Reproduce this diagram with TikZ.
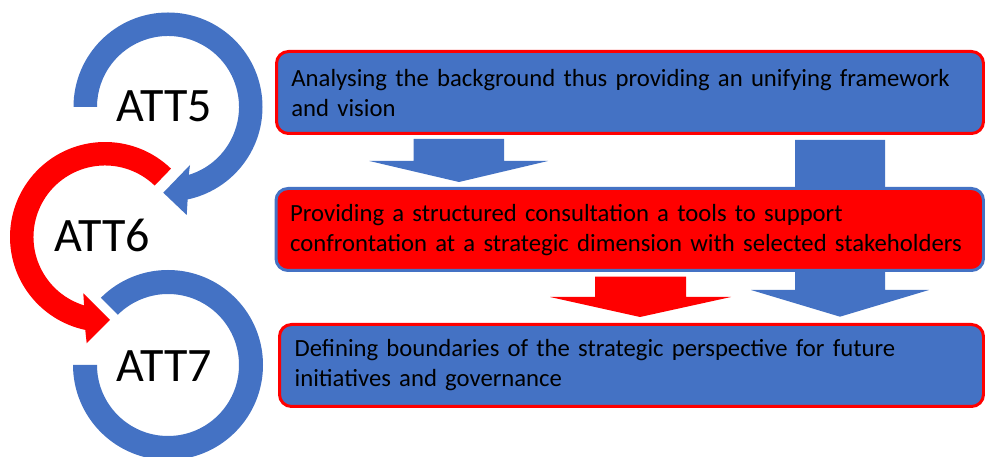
\documentclass[tikz,border=0pt]{standalone}
\usepackage{fontspec}
\setmainfont{Carlito}
\usetikzlibrary{calc}
\definecolor{cblue}{HTML}{4472C4}
\definecolor{cred}{HTML}{FF0000}
\hyphenpenalty=10000
\begin{document}
\begin{tikzpicture}[x=1pt,y=1pt,
  boxshape/.style={rectangle, rounded corners=12pt, line width=3pt, inner sep=0pt, minimum width=#1, minimum height=82pt},
  boxtext/.style={anchor=base west, inner sep=0pt, align=left, text width=700pt, font=\fontsize{24.7}{30}\selectfont},
  attlabel/.style={anchor=base west, inner sep=0pt, font=\fontsize{48}{48}\selectfont}]
\useasboundingbox (0,0) rectangle (985,457);
\fill[white] (0,0) rectangle (985,457);

% long blue arrow (behind box 2)
\fill[cblue] (795,317) -- (885,317) -- (885,167) -- (929,167) -- (840,140.3) -- (751,167) -- (795,167) -- cycle;

% boxes
\node[boxshape=707pt, draw=cred, fill=cblue] (box1) at (630,364.5) {};
\node[boxshape=707.5pt, draw=cblue, fill=cred] (box2) at (629.75,227.5) {};
\node[boxshape=704pt, draw=cred, fill=cblue] (box3) at (631.5,91.5) {};

\node[boxtext] (t1) at (291.2,370.3) {Analysing the background thus providing an unifying framework\\and vision};
\node[boxtext] (t2) at (290,235.5) {Providing a structured consultation a tools to support\\confrontation at a strategic dimension with selected stakeholders};
\node[boxtext] (t3) at (294.5,100) {Defining boundaries of the strategic perspective for future\\initiatives and governance};

% short arrows
\fill[cblue] (413.6,318) -- (504,318) -- (504,296) -- (548,296) -- (459,275) -- (369.4,296) -- (413.6,296) -- cycle;
\fill[cred] (595,180.3) -- (686,180.3) -- (686,160) -- (731,160) -- (640,140) -- (550,160) -- (595,160) -- cycle;

% circles
\coordinate (c5) at (168,350);
\coordinate (c6) at (105,220);
\coordinate (c7) at (168,92);

\fill[cblue] ($(c5)+(180:94.5pt)$) arc[start angle=180, end angle=-78, radius=94.5pt]
  -- (186.7,242) -- (163.3,264.3) -- (190,292)
  -- ($(c5)+(-73:71pt)$) arc[start angle=-73, end angle=180, radius=71pt] -- cycle;

\fill[cred] ($(c6)+(46:95pt)$) arc[start angle=46, end angle=258, radius=95pt]
  -- (86.7,113.7) -- (110,137) -- (83.3,163.7)
  -- ($(c6)+(253:71.5pt)$) arc[start angle=253, end angle=46, radius=71.5pt] -- cycle;

\fill[cblue] ($(c7)+(135:95pt)$) arc[start angle=135, end angle=-180, radius=95pt]
  -- ($(c7)+(-180:71pt)$) arc[start angle=-180, end angle=135, radius=71pt] -- cycle;

\node[attlabel] (a5) at (116,335.3) {ATT5};
\node[attlabel] (a6) at (54,205.3) {ATT6};
\node[attlabel] (a7) at (116,75.3) {ATT7};
\end{tikzpicture}
\end{document}
